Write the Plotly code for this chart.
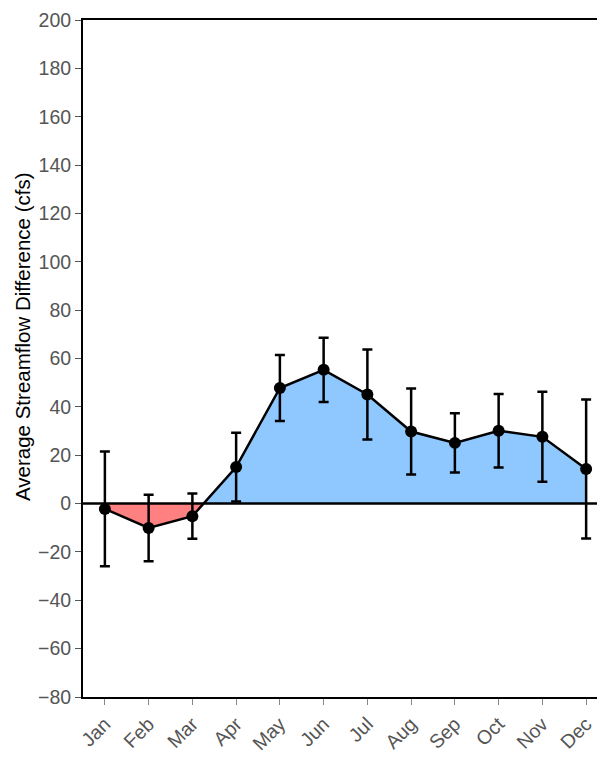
import numpy as np
import plotly.graph_objects as go

months = ["Jan", "Feb", "Mar", "Apr", "May", "Jun", "Jul", "Aug", "Sep", "Oct", "Nov", "Dec"]
diff = [-2.2, -10.1, -5.2, 15.1, 47.8, 55.3, 45.1, 29.8, 25.1, 30.1, 27.6, 14.3]
err = [23.7, 13.8, 9.4, 14.2, 13.6, 13.3, 18.6, 17.8, 12.3, 15.2, 18.6, 28.7]
y_title = "Average Streamflow Difference (cfs)"

x = np.arange(len(months), dtype=float)
y = np.array(diff, dtype=float)

# build fill polygons split at zero crossings
px, py = [], []
for i in range(len(x)):
    px.append(x[i]); py.append(y[i])
    if i < len(x) - 1 and y[i] * y[i + 1] < 0:
        t = y[i] / (y[i] - y[i + 1])
        px.append(x[i] + t * (x[i + 1] - x[i])); py.append(0.0)
px = np.array(px); py = np.array(py)
pos = np.where(py >= 0, py, 0.0)
neg = np.where(py <= 0, py, 0.0)

fig = go.Figure()
fig.add_trace(go.Scatter(x=px, y=pos, mode="lines", line=dict(width=0),
                         fill="tozeroy", fillcolor="#8FC7FF", hoverinfo="skip", showlegend=False))
fig.add_trace(go.Scatter(x=px, y=neg, mode="lines", line=dict(width=0),
                         fill="tozeroy", fillcolor="#FF8080", hoverinfo="skip", showlegend=False))
fig.add_hline(y=0, line=dict(color="black", width=2.5))
fig.add_trace(go.Scatter(
    x=x, y=y, mode="lines+markers",
    line=dict(color="black", width=2.5),
    marker=dict(color="black", size=12),
    error_y=dict(type="data", array=err, visible=True, color="black", thickness=2.5, width=5),
    showlegend=False))

tick_font = dict(family="Liberation Sans, Arial, sans-serif", size=19.5, color="#555555")
fig.update_layout(
    width=605, height=757,
    margin=dict(l=75, r=5, t=12, b=68),
    plot_bgcolor="white", paper_bgcolor="white",
    font=dict(family="Liberation Sans, Arial, sans-serif", size=19.5, color="#555555"),
)
fig.add_annotation(
    text=y_title, xref="paper", yref="paper", x=-0.114, y=0.532,
    xanchor="center", yanchor="middle", textangle=-90, showarrow=False,
    font=dict(family="Liberation Sans, Arial, sans-serif", color="black", size=20.5),
)
fig.update_xaxes(
    range=[-0.5, 11.5], tickmode="array", tickvals=list(x), ticktext=months,
    tickangle=-45, ticks="outside", ticklen=6, tickcolor="#888888", tickfont=tick_font,
    showline=True, linecolor="black", linewidth=2, mirror=True,
    showgrid=False, zeroline=False, ticklabeloverflow="allow", automargin=False,
)
fig.update_yaxes(
    range=[-80, 200], dtick=20, ticks="outside", ticklen=6, tickcolor="#555555", tickfont=tick_font,
    showline=True, linecolor="black", linewidth=2,
    showgrid=False, zeroline=False, ticklabeloverflow="allow", automargin=False,
    tickformat="d",
)
fig.write_html("out.html")
